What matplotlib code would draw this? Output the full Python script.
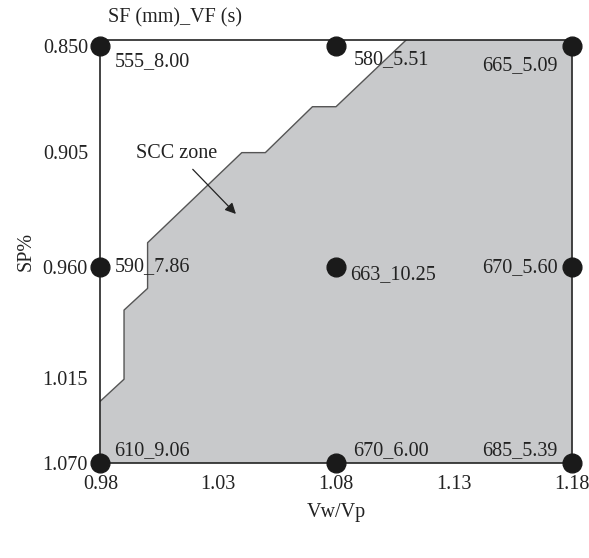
import matplotlib
matplotlib.use("Agg")
import matplotlib.pyplot as plt
import numpy as np

plt.rcParams['font.family'] = ['Liberation Serif', 'DejaVu Serif']

# Design points: Vw/Vp ratio, SP%, and measured SF (mm)_VF (s)
vw_vp = [0.98, 1.08, 1.18, 0.98, 1.08, 1.18, 0.98, 1.08, 1.18]
sp_pct = [0.850, 0.850, 0.850, 0.960, 0.960, 0.960, 1.070, 1.070, 1.070]
labels = ["555_8.00", "580_5.51", "665_5.09",
          "590_7.86", "663_10.25", "670_5.60",
          "610_9.06", "670_6.00", "685_5.39"]

# Label offsets (points) and alignment for each design point
offsets = [(10, -11), (13, -10), (-10, -14),
           (10, 1), (10, -5), (-10, 0),
           (10, 9), (12, 9), (-10, 9)]
aligns = ["left", "left", "right", "left", "left", "right", "left", "left", "right"]

Y_TOP = 0.8465  # upper edge of the frame, just above the 0.850 row

# Boundary of the SCC zone (upper-left edge), from top to left side
zone_x = [1.110, 1.080, 1.070, 1.050, 1.040, 1.000, 1.000, 0.990, 0.990, 0.980]
zone_y = [Y_TOP, 0.8815, 0.8815, 0.9053, 0.9053, 0.9482, 0.9704, 0.9812, 1.0158, 1.0299]

x_ticks = [0.98, 1.03, 1.08, 1.13, 1.18]
y_ticks = [0.850, 0.905, 0.960, 1.015, 1.070]

# SP% axis spacing (the grid rows are not evenly spaced on this chart)
sp_knots = np.array([0.70, 0.8465, 0.850, 0.905, 0.960, 1.015, 1.070, 1.20])
pos_knots = np.array([-235.0, 39.5, 46.0, 152.0, 267.5, 378.0, 463.0, 663.9])


def sp_forward(v):
    return np.interp(v, sp_knots, pos_knots)


def sp_inverse(p):
    return np.interp(p, pos_knots, sp_knots)


fig = plt.figure(figsize=(5.89, 5.58), dpi=100)
ax = fig.add_axes([0.1706, 0.1703, 0.7997, 0.7589])
ax.set_yscale("function", functions=(sp_forward, sp_inverse))

# Shaded zone: boundary, then lower-left, lower-right, upper-right corners
poly_x = zone_x + [0.98, 1.18, 1.18]
poly_y = zone_y + [1.070, 1.070, Y_TOP]
ax.fill(poly_x, poly_y, facecolor="#c8c9cb", edgecolor="none", zorder=1)
ax.plot(zone_x, zone_y, color="#555555", lw=1.0, zorder=2)

ax.plot(vw_vp, sp_pct, "o", color="#1a1a1a", markersize=13.5,
        clip_on=False, zorder=5)

for x, y, t, (dx, dy), ha in zip(vw_vp, sp_pct, labels, offsets, aligns):
    ax.annotate(t, (x, y), xytext=(dx, dy), textcoords="offset points",
                ha=ha, va="center", fontsize=14.5, color="#222222", zorder=6)

ax.annotate("SCC zone", xy=(1.0375, 0.9345), xytext=(1.0125, 0.9055),
            ha="center", va="center", fontsize=14.5, color="#222222",
            arrowprops=dict(arrowstyle="-|>", color="#222222", lw=0.9,
                            mutation_scale=16, shrinkA=4, shrinkB=0))

ax.text(0.016, 1.052, "SF (mm)_VF (s)", transform=ax.transAxes,
        ha="left", va="center", fontsize=14.5, color="#222222")

ax.set_xlim(0.98, 1.18)
ax.set_ylim(1.070, Y_TOP)
ax.set_xticks(x_ticks)
ax.set_xticklabels([f"{v:.2f}" for v in x_ticks])
ax.set_yticks(y_ticks)
ax.set_yticklabels([f"{v:.3f}" for v in y_ticks])
ax.minorticks_off()
ax.tick_params(length=0, labelsize=14.5, colors="#222222", pad=9)
ax.set_xlabel("Vw/Vp", fontsize=14.5, color="#222222", labelpad=6)
ax.set_ylabel("SP%", fontsize=14.5, color="#222222", labelpad=5)

for s in ax.spines.values():
    s.set_color("#222222")
    s.set_linewidth(1.2)
    s.set_zorder(3)

fig.savefig("out.png", dpi=100)
